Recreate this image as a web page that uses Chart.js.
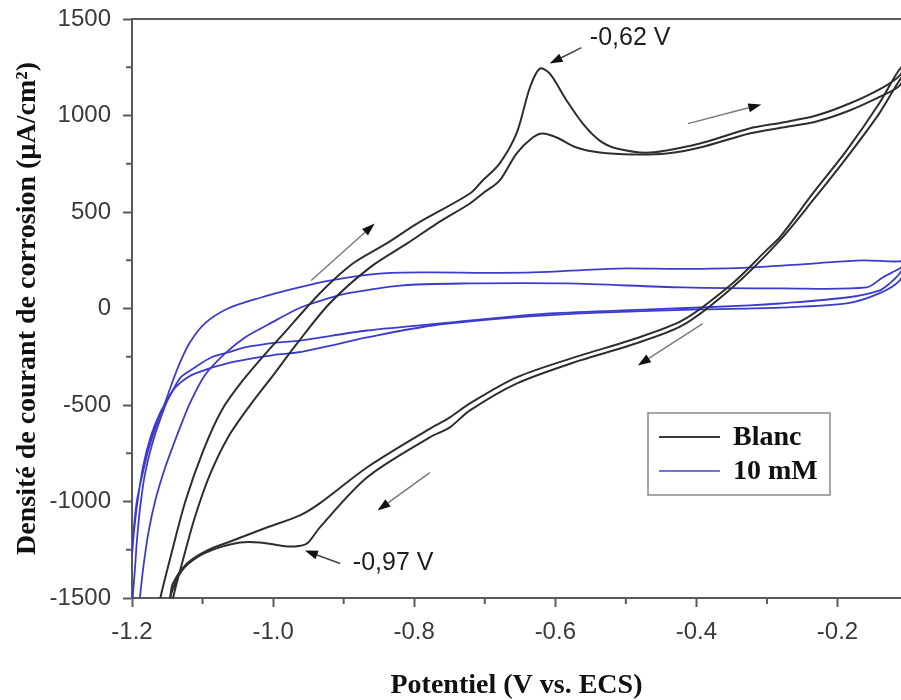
<!DOCTYPE html>
<html lang="fr">
<head>
<meta charset="utf-8">
<title>Voltampérométrie cyclique</title>
<script src="https://cdn.jsdelivr.net/npm/chart.js@4/dist/chart.umd.min.js"></script>
<style>
  html, body { margin: 0; padding: 0; background: #fff; }
  #wrap { width: 901px; height: 700px; }
</style>
</head>
<body>
<div id="wrap"><canvas id="cvChart" width="901" height="700"></canvas></div>
<script>
// Potentiel (V vs. ECS) et densité de courant (µA/cm²), deux cycles par solution
const blancCycle1E = [-1.2, -1.18, -1.160, -1.143, -1.124, -1.099, -1.073, -1.043, -1.007, -0.990, -0.934, -0.887, -0.839, -0.796, -0.721, -0.703, -0.679, -0.655, -0.636, -0.622, -0.608, -0.584, -0.561, -0.537, -0.513, -0.466, -0.395, -0.325, -0.278, -0.230, -0.183, -0.136, -0.112, -0.100,
  -0.116, -0.141, -0.187, -0.235, -0.282, -0.301, -0.349, -0.420, -0.495, -0.565, -0.655, -0.721, -0.750, -0.782, -0.867, -0.934, -0.962, -1.009, -1.057, -1.094, -1.122, -1.142, -1.146, -1.17, -1.2];
const blancCycle1I = [-2400, -1850, -1502, -1254, -995, -736, -528, -373, -218, -150, 78, 233, 337, 440, 596, 663, 751, 907, 1145, 1243, 1218, 1078, 958, 870, 829, 808, 855, 933, 964, 1000, 1062, 1145, 1207, 1290,
  1218, 1062, 819, 596, 368, 301, 130, -62, -166, -244, -357, -492, -565, -632, -824, -1010, -1072, -1135, -1202, -1254, -1321, -1425, -1502, -1950, -2400];

const blancCycle2E = [-1.2, -1.16, -1.142, -1.128, -1.111, -1.090, -1.064, -1.033, -0.997, -0.966, -0.920, -0.863, -0.810, -0.768, -0.721, -0.703, -0.679, -0.655, -0.632, -0.618, -0.598, -0.570, -0.537, -0.490, -0.442, -0.395, -0.325, -0.278, -0.230, -0.183, -0.136, -0.112, -0.100,
  -0.115, -0.141, -0.187, -0.235, -0.282, -0.349, -0.420, -0.495, -0.565, -0.655, -0.721, -0.750, -0.778, -0.867, -0.934, -0.952, -0.969, -0.990, -1.019, -1.047, -1.080, -1.108, -1.129, -1.143, -1.15, -1.2];
const blancCycle2I = [-2600, -1850, -1502, -1306, -1083, -865, -668, -503, -332, -181, 26, 212, 337, 440, 544, 596, 663, 803, 886, 907, 886, 834, 808, 798, 803, 834, 907, 938, 969, 1026, 1104, 1155, 1240,
  1166, 1010, 782, 560, 352, 109, -88, -192, -269, -389, -528, -617, -668, -876, -1135, -1218, -1233, -1228, -1212, -1212, -1243, -1290, -1357, -1461, -1560, -2300];

const inhCycle1E = [-1.2, -1.197, -1.193, -1.184, -1.175, -1.163, -1.152, -1.142, -1.132, -1.118, -1.097, -1.064, -1.017, -0.969, -0.920, -0.849, -0.778, -0.700, -0.632, -0.513, -0.420, -0.325, -0.235, -0.165, -0.112, -0.100,
  -0.112, -0.126, -0.141, -0.187, -0.282, -0.325, -0.466, -0.608, -0.750, -0.867, -0.962, -0.993, -1.040, -1.064, -1.088, -1.111, -1.131, -1.146, -1.160, -1.173, -1.184, -1.192, -1.197, -1.2];
const inhCycle1I = [-1280, -1124, -995, -839, -710, -580, -477, -373, -280, -176, -78, 0, 57, 104, 145, 181, 187, 185, 187, 207, 205, 212, 233, 249, 244, 262,
  181, 130, 93, 57, 26, 16, -5, -26, -73, -114, -166, -176, -202, -228, -254, -306, -357, -451, -539, -658, -813, -995, -1150, -1280];

const inhCycle2E = [-1.2, -1.189, -1.184, -1.177, -1.167, -1.153, -1.139, -1.128, -1.118, -1.097, -1.068, -1.040, -1.007, -0.961, -0.922, -0.895, -0.820, -0.725, -0.584, -0.420, -0.278, -0.159, -0.136, -0.112, -0.100,
  -0.112, -0.141, -0.187, -0.282, -0.395, -0.537, -0.632, -0.774, -0.867, -0.922, -0.966, -0.993, -1.061, -1.111, -1.131, -1.145, -1.158, -1.172, -1.182, -1.189, -1.193, -1.196, -1.199, -1.2];
const inhCycle2I = [-1800, -1502, -1342, -1166, -995, -824, -684, -580, -492, -347, -233, -150, -83, 5, 52, 78, 119, 130, 130, 109, 104, 109, 161, 207, 240,
  145, 78, 26, 5, -5, -21, -40, -88, -150, -195, -228, -238, -280, -337, -383, -440, -554, -710, -865, -1047, -1202, -1357, -1502, -1600];

const seriesLabels = ['Blanc', '10 mM'];
const xTicks = [-1.2, -1.0, -0.8, -0.6, -0.4, -0.2];
const xMinorTicks = [-1.1, -0.9, -0.7, -0.5, -0.3];
const yTicks = [-1500, -1000, -500, 0, 500, 1000, 1500];
const yMinorTicks = [-1250, -750, -250, 250, 750, 1250];

// flèches de sens de balayage (coordonnées V, µA/cm²)
const scanArrows = [
  { from: [-0.946, 145], to: [-0.856, 440] },
  { from: [-0.412, 958], to: [-0.308, 1057] },
  { from: [-0.391, -78], to: [-0.483, -295] },
  { from: [-0.778, -850], to: [-0.852, -1047] }
];
// pics annotés
const peakNotes = [
  { text: '-0,62 V', at: [-0.551, 1399], from: [-0.563, 1352], to: [-0.608, 1269] },
  { text: '-0,97 V', at: [-0.887, -1321], from: [-0.905, -1321], to: [-0.955, -1254] }
];

const blackColor = '#2e2e2e';
const blueColor = '#3c3ccc';
const axisColor = '#5a5a5a';

const toPoints = (E, I) => E.map((e, i) => ({ x: e, y: I[i] }));

function drawArrow(ctx, x1, y1, x2, y2, lineColor) {
  const ang = Math.atan2(y2 - y1, x2 - x1);
  const len = 13, half = 4.5;
  const bx = x2 - len * Math.cos(ang);
  const by = y2 - len * Math.sin(ang);
  ctx.strokeStyle = lineColor;
  ctx.lineWidth = 1.5;
  ctx.beginPath();
  ctx.moveTo(x1, y1);
  ctx.lineTo(bx, by);
  ctx.stroke();
  ctx.fillStyle = '#111';
  ctx.beginPath();
  ctx.moveTo(x2, y2);
  ctx.lineTo(bx + half * Math.sin(ang), by - half * Math.cos(ang));
  ctx.lineTo(bx - half * Math.sin(ang), by + half * Math.cos(ang));
  ctx.closePath();
  ctx.fill();
}

const frameAndNotes = {
  id: 'frameAndNotes',
  afterDraw(chart) {
    const { ctx, chartArea: a, scales: { x, y } } = chart;
    ctx.save();

    // bord supérieur du cadre
    ctx.strokeStyle = axisColor;
    ctx.lineWidth = 2;
    ctx.beginPath();
    ctx.moveTo(a.left, a.top);
    ctx.lineTo(a.right, a.top);
    ctx.stroke();

    // graduations secondaires
    ctx.beginPath();
    xMinorTicks.forEach(v => {
      const px = x.getPixelForValue(v);
      ctx.moveTo(px, a.bottom);
      ctx.lineTo(px, a.bottom + 6);
    });
    yMinorTicks.forEach(v => {
      const py = y.getPixelForValue(v);
      ctx.moveTo(a.left, py);
      ctx.lineTo(a.left - 6, py);
    });
    ctx.stroke();

    scanArrows.forEach(ar => {
      drawArrow(ctx, x.getPixelForValue(ar.from[0]), y.getPixelForValue(ar.from[1]),
        x.getPixelForValue(ar.to[0]), y.getPixelForValue(ar.to[1]), '#7a7a7a');
    });

    ctx.font = '25px "Liberation Sans", Arial, sans-serif';
    ctx.textAlign = 'left';
    ctx.textBaseline = 'middle';
    peakNotes.forEach(n => {
      drawArrow(ctx, x.getPixelForValue(n.from[0]), y.getPixelForValue(n.from[1]),
        x.getPixelForValue(n.to[0]), y.getPixelForValue(n.to[1]), '#444');
      ctx.fillStyle = '#1e1e1e';
      ctx.fillText(n.text, x.getPixelForValue(n.at[0]), y.getPixelForValue(n.at[1]));
    });

    // légende
    const lx = a.left + 516, ly = a.top + 394, lw = 182, lh = 82;
    ctx.fillStyle = '#fff';
    ctx.fillRect(lx, ly, lw, lh);
    ctx.strokeStyle = '#8a8a8a';
    ctx.lineWidth = 1.5;
    ctx.strokeRect(lx, ly, lw, lh);
    const rows = [
      { label: seriesLabels[0], color: '#3a3a3a' },
      { label: seriesLabels[1], color: '#7373dc' }
    ];
    ctx.font = 'bold 28px "Liberation Serif", "Times New Roman", serif';
    rows.forEach((r, i) => {
      const ry = ly + 24 + i * 34;
      ctx.strokeStyle = r.color;
      ctx.lineWidth = 2;
      ctx.beginPath();
      ctx.moveTo(lx + 11, ry);
      ctx.lineTo(lx + 72, ry);
      ctx.stroke();
      ctx.fillStyle = '#111';
      ctx.fillText(r.label, lx + 85, ry + 1);
    });

    ctx.restore();
  }
};

const common = { showLine: true, pointRadius: 0, borderWidth: 2, tension: 0.3, fill: false };

new Chart(document.getElementById('cvChart'), {
  type: 'scatter',
  data: {
    datasets: [
      { ...common, label: seriesLabels[0], data: toPoints(blancCycle1E, blancCycle1I), borderColor: blackColor },
      { ...common, label: seriesLabels[0], data: toPoints(blancCycle2E, blancCycle2I), borderColor: blackColor },
      { ...common, label: seriesLabels[1], data: toPoints(inhCycle1E, inhCycle1I), borderColor: blueColor, borderWidth: 1.8 },
      { ...common, label: seriesLabels[1], data: toPoints(inhCycle2E, inhCycle2I), borderColor: blueColor, borderWidth: 1.8 }
    ]
  },
  options: {
    responsive: false,
    animation: false,
    devicePixelRatio: 1,
    layout: { padding: { top: 19, right: 0, bottom: 0, left: 0 } },
    plugins: {
      legend: { display: false },
      tooltip: { enabled: false }
    },
    scales: {
      x: {
        type: 'linear',
        min: -1.2,
        max: -0.11,
        afterBuildTicks: (s) => { s.ticks = xTicks.map(v => ({ value: v })); },
        afterFit: (s) => { s.height = 102; },
        grid: { drawOnChartArea: false, drawTicks: true, tickLength: 9, tickWidth: 2, tickColor: axisColor },
        border: { display: true, color: axisColor, width: 2 },
        ticks: {
          color: '#3a3a3a',
          font: { family: '"Liberation Sans", Arial, sans-serif', size: 24 },
          padding: 11,
          maxRotation: 0,
          callback: (v) => v.toFixed(1)
        },
        title: {
          display: true,
          text: 'Potentiel (V vs. ECS)',
          color: '#111',
          font: { family: '"Liberation Serif", "Times New Roman", serif', size: 28, weight: 'bold', lineHeight: 1 },
          padding: { top: 0, bottom: 0 }
        }
      },
      y: {
        type: 'linear',
        min: -1500,
        max: 1500,
        afterBuildTicks: (s) => { s.ticks = yTicks.map(v => ({ value: v })); },
        afterFit: (s) => { s.width = 132; s.paddingTop = 0; s.paddingBottom = 0; },
        grid: { drawOnChartArea: false, drawTicks: true, tickLength: 9, tickWidth: 2, tickColor: axisColor },
        border: { display: true, color: axisColor, width: 2 },
        ticks: {
          color: '#3a3a3a',
          font: { family: '"Liberation Sans", Arial, sans-serif', size: 24 },
          padding: 12,
          callback: (v) => String(v)
        },
        title: {
          display: true,
          text: 'Densité de courant de corrosion (µA/cm²)',
          color: '#111',
          font: { family: '"Liberation Serif", "Times New Roman", serif', size: 28, weight: 'bold', lineHeight: 1.2 },
          padding: { top: 11, bottom: 0 }
        }
      }
    }
  },
  plugins: [frameAndNotes]
});
</script>
</body>
</html>
